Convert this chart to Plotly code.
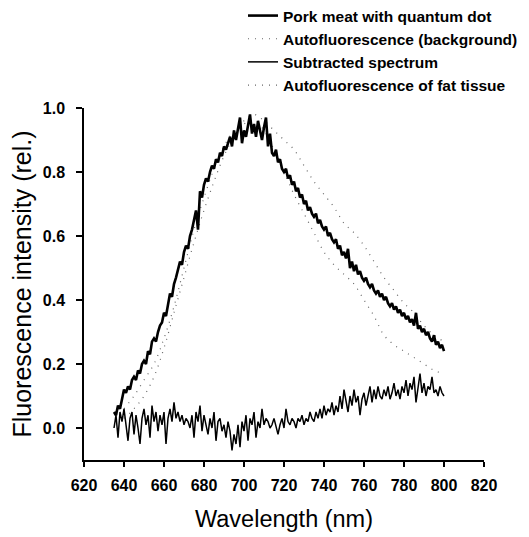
import plotly.graph_objects as go

# ---- data ----
wl = list(range(635, 801))  # nm, 1-nm steps

pork_qd = [
    0.05, 0.04, 0.07, 0.06, 0.09, 0.12, 0.11, 0.13, 0.12, 0.15,
    0.16, 0.15, 0.18, 0.17, 0.20, 0.21, 0.20, 0.24, 0.23, 0.27,
    0.28, 0.27, 0.30, 0.32, 0.33, 0.36, 0.35, 0.39, 0.42, 0.41,
    0.45, 0.47, 0.50, 0.52, 0.51, 0.55, 0.57, 0.56, 0.60, 0.62,
    0.65, 0.68, 0.62, 0.74, 0.72, 0.76, 0.78, 0.77, 0.80, 0.82,
    0.81, 0.84, 0.83, 0.86, 0.85, 0.88, 0.87, 0.89, 0.91, 0.88,
    0.93, 0.90, 0.94, 0.97, 0.89, 0.93, 0.91, 0.95, 0.98, 0.92,
    0.95, 0.91, 0.96, 0.93, 0.90, 0.94, 0.97, 0.88, 0.92, 0.86,
    0.85, 0.87, 0.83, 0.84, 0.81, 0.80, 0.81, 0.78, 0.79, 0.76,
    0.77, 0.74, 0.75, 0.72, 0.73, 0.70, 0.71, 0.68, 0.69, 0.67,
    0.66, 0.67, 0.64, 0.65, 0.63, 0.62, 0.63, 0.60, 0.61, 0.59,
    0.58, 0.59, 0.56, 0.57, 0.54, 0.55, 0.53, 0.56, 0.50, 0.52,
    0.49, 0.51, 0.48, 0.49, 0.47, 0.46, 0.47, 0.45, 0.44, 0.45,
    0.43, 0.42, 0.43, 0.41, 0.42, 0.40, 0.41, 0.39, 0.38, 0.39,
    0.37, 0.38, 0.36, 0.37, 0.35, 0.36, 0.34, 0.35, 0.33, 0.34,
    0.32, 0.36, 0.31, 0.32, 0.30, 0.31, 0.29, 0.30, 0.28, 0.27,
    0.29, 0.26, 0.27, 0.25, 0.26, 0.24,
]

subtracted = [
    0.00, 0.04, -0.03, 0.05, 0.02, 0.06, 0.01, -0.04, 0.03, 0.05,
    -0.02, 0.04, 0.00, -0.05, 0.03, 0.06, 0.01, 0.04, -0.03, 0.07,
    0.02, 0.05, -0.01, 0.04, 0.01, 0.05, -0.05, 0.03, 0.06, 0.02,
    0.08, 0.03, 0.05, 0.02, 0.04, 0.01, 0.03, 0.02, 0.00, 0.04,
    -0.03, 0.05, 0.02, 0.07, -0.01, 0.04, 0.01, -0.02, 0.03, 0.00,
    0.05, -0.04, 0.02, 0.03, -0.01, 0.01, -0.03, 0.02, -0.01, -0.07,
    -0.02, -0.05, 0.01, -0.06, 0.02, -0.01, 0.04, -0.04, 0.03, 0.01,
    0.05, -0.03, 0.02, 0.00, 0.06, 0.01, 0.03, 0.02, 0.00, 0.01,
    0.03, 0.00, -0.02, 0.01, 0.03, 0.00, 0.06, 0.02, 0.01, 0.03,
    0.02, 0.00, 0.03, 0.02, 0.04, 0.01, 0.03, 0.02, 0.05, 0.03,
    0.02, 0.05, 0.03, 0.06, 0.03, 0.07, 0.04, 0.06, 0.05, 0.08,
    0.04, 0.07, 0.05, 0.10, 0.06, 0.12, 0.08, 0.05, 0.10, 0.07,
    0.12, 0.08, 0.10, 0.04, 0.09, 0.11, 0.07, 0.10, 0.13, 0.08,
    0.12, 0.09, 0.13, 0.10, 0.09, 0.12, 0.10, 0.13, 0.09, 0.11,
    0.14, 0.10, 0.12, 0.09, 0.13, 0.11, 0.15, 0.10, 0.14, 0.12,
    0.16, 0.08, 0.13, 0.17, 0.11, 0.14, 0.10, 0.13, 0.12, 0.16,
    0.11, 0.12, 0.10, 0.13, 0.11, 0.10,
]

wl_coarse = list(range(640, 801, 5))
background = [
    0.06, 0.10, 0.15, 0.20, 0.28, 0.38, 0.50, 0.62, 0.72, 0.81,
    0.88, 0.93, 0.96, 0.98, 0.96, 0.93, 0.90, 0.87, 0.82, 0.77,
    0.73, 0.69, 0.64, 0.61, 0.57, 0.52, 0.47, 0.43, 0.39, 0.36,
    0.32, 0.29, 0.27,
]
fat_tissue = [
    0.03, 0.06, 0.10, 0.16, 0.25, 0.36, 0.47, 0.58, 0.68, 0.77,
    0.85, 0.91, 0.95, 0.96, 0.93, 0.87, 0.80, 0.73, 0.67, 0.61,
    0.55, 0.51, 0.48, 0.45, 0.40, 0.35, 0.29, 0.26, 0.24, 0.22,
    0.20, 0.18, 0.17,
]

x_ticks = [620, 640, 660, 680, 700, 720, 740, 760, 780, 800, 820]
y_ticks = [0.0, 0.2, 0.4, 0.6, 0.8, 1.0]

names = ["Pork meat with quantum dot", "Autofluorescence (background)",
         "Subtracted spectrum", "Autofluorescence of fat tissue"]

# ---- figure ----
fig = go.Figure()
fig.add_trace(go.Scatter(x=wl, y=pork_qd, mode="lines", name=names[0],
                         legendgroup="a",
                         line=dict(color="black", width=2.6)))
fig.add_trace(go.Scatter(x=wl_coarse, y=background, mode="lines", name=names[1],
                         legendgroup="b",
                         line=dict(color="rgba(0,0,0,0.6)", width=1.2, dash="1px,6px", shape="spline")))
fig.add_trace(go.Scatter(x=wl, y=subtracted, mode="lines", name=names[2],
                         legendgroup="c",
                         line=dict(color="black", width=1.5)))
fig.add_trace(go.Scatter(x=wl_coarse, y=fat_tissue, mode="lines", name=names[3],
                         legendgroup="d",
                         line=dict(color="rgba(0,0,0,0.6)", width=1.2, dash="1px,6px", shape="spline")))

FONT = "Liberation Sans, Arial"
axis_font = dict(family=FONT, size=16, color="black", weight="bold")

W, H = 521, 529  # page body has an 8px margin
L, T = 76, 100
pw, ph = 400, 352
R = W - L - pw
B = H - T - ph

fig.update_layout(
    width=W, height=H,
    margin=dict(l=L, r=R, t=T, b=B, autoexpand=False),
    paper_bgcolor="white", plot_bgcolor="white",
    showlegend=True,
    legend=dict(
        x=(235 - L) / pw, y=1 + (T + 9) / ph, xanchor="left", yanchor="top",
        font=dict(family=FONT, size=15.5, color="black", weight="bold"),
        traceorder="grouped", tracegroupgap=0,
        bgcolor="rgba(0,0,0,0)", itemwidth=30,
    ),
    xaxis=dict(
        range=[620, 820], tickmode="array", tickvals=x_ticks,
        ticktext=[str(v) for v in x_ticks], automargin=False,
        showline=True, linecolor="black", linewidth=1.5,
        ticks="outside", ticklen=5, tickwidth=1.5, tickcolor="black",
        ticklabelstandoff=5,
        showgrid=False, zeroline=False, tickfont=axis_font,
        title=dict(text="Wavelength (nm)",
                   font=dict(family=FONT, size=23.5, color="black"), standoff=18),
    ),
    yaxis=dict(
        range=[-0.1, 1.0], tickmode="array", tickvals=y_ticks,
        ticktext=[f"{v:.1f}" for v in y_ticks], automargin=False,
        showline=True, linecolor="black", linewidth=1.5,
        ticks="outside", ticklen=6, tickwidth=1.5, tickcolor="black",
        ticklabelstandoff=8,
        showgrid=False, zeroline=False, tickfont=axis_font,
        title=dict(text="Fluorescence intensity (rel.)",
                   font=dict(family=FONT, size=25, color="black"), standoff=5),
    ),
)

fig.write_html("out.html")
